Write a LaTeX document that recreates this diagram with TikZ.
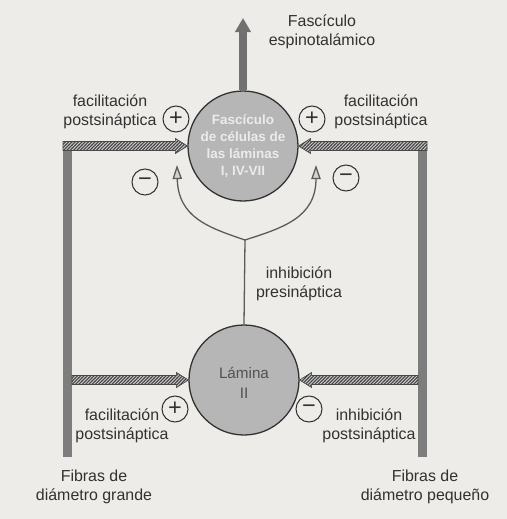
\documentclass[tikz,border=0pt]{standalone}
\usepackage{fontspec}
\setmainfont{Liberation Sans}
\usetikzlibrary{arrows.meta, calc, patterns}
\definecolor{Paper}{RGB}{238,236,232}
\definecolor{Ink}{RGB}{50,50,50}
\definecolor{CellGray}{RGB}{182,182,182}
\definecolor{BarGray}{RGB}{125,125,125}

% dense diagonal hatching
\pgfdeclarepatternformonly{densehatch}{\pgfqpoint{-1pt}{-1pt}}{\pgfqpoint{4pt}{4pt}}{\pgfqpoint{2.8pt}{2.8pt}}{%
  \pgfsetlinewidth{0.9pt}
  \pgfpathmoveto{\pgfqpoint{-0.2pt}{-0.2pt}}
  \pgfpathlineto{\pgfqpoint{3pt}{3pt}}
  \pgfusepath{stroke}}

% hatched arrow: start, tip, head offset
\newcommand{\hatcharrow}[3]{%
  \draw[hatch] ($(#1)+(0,-4.5)$) -- ($(#2)+(#3,-4.5)$) -- ($(#2)+(#3,-7.5)$) -- (#2)
    -- ($(#2)+(#3,7.5)$) -- ($(#2)+(#3,4.5)$) -- ($(#1)+(0,4.5)$) -- cycle;}

\begin{document}
\begin{tikzpicture}[x=0.03cm, y=-0.03cm,
    lbl/.style={font=\fontsize{13.6}{16.4}\selectfont, text=Ink, align=center},
    cell/.style={circle, draw=Ink, line width=1.1pt, fill=CellGray, minimum size=3.3cm,
                 inner sep=0pt, align=center},
    sign/.style={circle, draw=Ink, line width=0.9pt, minimum size=0.78cm, inner sep=0pt,
                 font=\fontsize{20}{20}\selectfont, text=Ink},
    hatch/.style={draw=Ink!90, line width=0.6pt, preaction={fill=CellGray!70},
                  pattern=densehatch, pattern color=Ink!90},
    bar/.style={fill=BarGray},
    preinh/.style={draw=Ink!80, line width=1.1pt},
    inhtip/.style={-{Triangle[open, length=12pt, width=8pt, fill=CellGray!60]}}]
  % paper
  \fill[Paper] (0,0) rectangle (507,519);
  % cell groups
  \node[cell, text=white!92!black, font=\bfseries\fontsize{11.5}{14.6}\selectfont] (cell) at (243,146)
       {Fascículo\\de células de\\las láminas\\I, IV-VII};
  \node[cell, font=\fontsize{13}{17}\selectfont] (lam) at (244,380) {};
  \node[text=Ink!85, font=\fontsize{13}{17}\selectfont, align=center] (lamtext) at (244,383) {Lámina\\II};
  % output tract
  \coordinate (tract) at (243,18);
  \draw[BarGray!90!black, line width=6.8pt, -{Triangle[length=12pt, width=13pt]}] (cell.north) -- (tract);
  \node[lbl] (tractlbl) at (322,32) {Fascículo\\espinotalámico};
  % fibre bars
  \fill[bar] (63,141) rectangle (72,457);
  \fill[bar] (418,141) rectangle (427,457);
  \coordinate (ltop) at (63,146);
  \coordinate (lbot) at (72,380);
  \coordinate (rtop) at (427,146);
  \coordinate (rbot) at (418,380);
  \hatcharrow{ltop}{cell.west}{-12}
  \hatcharrow{lbot}{lam.west}{-12}
  \hatcharrow{rtop}{cell.east}{12}
  \hatcharrow{rbot}{lam.east}{12}
  % presynaptic branch
  \coordinate (split) at (245,240);
  \coordinate (tipl) at (177,165);
  \coordinate (tipr) at (316,165);
  \draw[preinh] (lam.north) -- (split);
  \draw[preinh, inhtip] (split) .. controls (210,228) and (178,218) .. (tipl);
  \draw[preinh, inhtip] (split) .. controls (282,228) and (316,218) .. (tipr);
  % signs
  \node[sign] (plustl) at (176,119) {+};
  \node[sign] (minustl) at (145,182) {\symbol{"2212}};
  \node[sign] (plustr) at (312,119) {+};
  \node[sign] (minustr) at (346,178) {\symbol{"2212}};
  \node[sign] (plusbl) at (175,409) {+};
  \node[sign] (minusbr) at (309,409) {\symbol{"2212}};
  % labels
  \node[lbl] (factl) at (110,112) {facilitación\\postsináptica};
  \node[lbl] (factr) at (381,112) {facilitación\\postsináptica};
  \node[lbl] (presyn) at (299,284) {inhibición\\presináptica};
  \node[lbl] (facbl) at (122,426) {facilitación\\postsináptica};
  \node[lbl] (inhbr) at (369,426) {inhibición\\postsináptica};
  \node[lbl] (large) at (94,487) {Fibras de\\diámetro grande};
  \node[lbl] (small) at (425,487) {Fibras de\\diámetro pequeño};
\end{tikzpicture}
\end{document}
